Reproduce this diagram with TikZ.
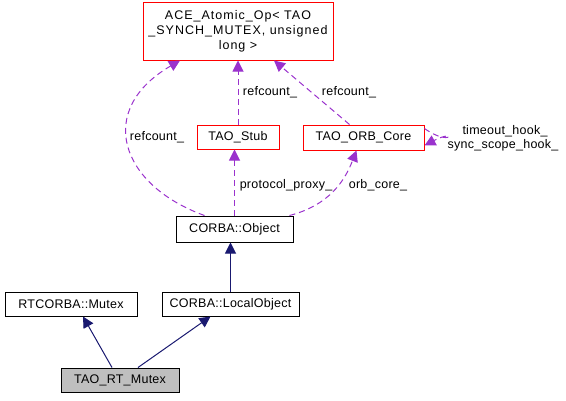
\documentclass[tikz,border=0pt]{standalone}
\usepackage{fontspec}
\setmainfont{Liberation Sans}[LetterSpace=2]
\usetikzlibrary{arrows.meta}
\definecolor{edgepurple}{HTML}{9A32CD}
\definecolor{edgenavy}{HTML}{191970}
\definecolor{boxred}{HTML}{FF0000}
\definecolor{boxgray}{HTML}{BFBFBF}
\begin{document}
\begin{tikzpicture}[x=1pt,y=-1pt,
  every node/.style={font=\fontsize{12.5}{15}\selectfont},
  cls/.style={draw=black,line width=1pt,fill=white,inner sep=0pt,minimum height=24pt},
  redcls/.style={cls,draw=boxred},
  usage/.style={draw=edgepurple,line width=1pt,dashed,dash pattern=on 6pt off 4pt,
     -{Triangle[length=11pt,width=11pt,fill=edgepurple]}},
  inherit/.style={draw=edgenavy,line width=1pt,
     -{Triangle[length=11pt,width=11pt,fill=edgenavy]}},
  lbl/.style={inner sep=0pt,fill=none}]
\useasboundingbox (0,0) rectangle (566,400);
\node[redcls,minimum width=190pt,minimum height=58pt,align=center,
  font=\fontsize{12.5}{15}\selectfont\addfontfeature{LetterSpace=8}] (ace) at (238,31)
  {ACE\_Atomic\_Op< TAO\\\_SYNCH\_MUTEX, unsigned\\long >};
\node[redcls,minimum width=82pt] (stub) at (238,137) {TAO\_Stub};
\node[redcls,minimum width=121pt,minimum height=25pt] (orb) at (363.5,137.5) {TAO\_ORB\_Core};
\node[cls,minimum width=117pt,minimum height=26pt] (obj) at (234.5,229) {CORBA::Object};
\node[cls,minimum width=132pt] (rtm) at (71,304) {RTCORBA::Mutex};
\node[cls,minimum width=137pt] (lo) at (230.5,304) {CORBA::LocalObject};
\node[cls,fill=boxgray,minimum width=118pt] (tao) at (120,380) {TAO\_RT\_Mutex};

\coordinate (objL) at ([xshift=-30pt]obj.north);
\coordinate (objR) at ([xshift=55pt]obj.north);
\coordinate (aceL) at ([xshift=-58pt]ace.south);
\coordinate (aceR) at ([xshift=36pt]ace.south);
\coordinate (orbT) at ([xshift=-14pt]orb.north);
\coordinate (orbB) at ([xshift=-7pt]orb.south);
\coordinate (orbR1) at ([yshift=-8pt]orb.east);
\coordinate (orbR2) at ([yshift=9pt]orb.east);

\draw[usage] (objL) .. controls (120,185) and (95,110) .. (aceL);
\draw[usage] (stub.north) -- (stub.north |- ace.south);
\draw[usage] (orbT) -- (aceR);
\draw[usage] (obj.north) -- (obj.north |- stub.south);
\draw[usage] (objR) .. controls (330,205) and (345,180) .. (orbB);
\draw[usage] (orbR2) .. controls (452,148) and (458,128) .. (orbR1);

\node[lbl] (l1) at (157,137) {refcount\_};
\node[lbl] (l2) at (270,92) {refcount\_};
\node[lbl] (l3) at (349,92) {refcount\_};
\node[lbl] (l4) at (286,185) {protocol\_proxy\_};
\node[lbl] (l5) at (378,185) {orb\_core\_};
\node[lbl] (l6) at (505,131) {timeout\_hook\_};
\node[lbl] (l7) at (503,145) {sync\_scope\_hook\_};

\draw[inherit] (lo.north) -- (lo.north |- obj.south);
\draw[inherit] ([xshift=-8pt]tao.north) -- ([xshift=12pt]rtm.south);
\draw[inherit] ([xshift=18pt]tao.north) -- ([xshift=-20pt]lo.south);
\end{tikzpicture}
\end{document}
